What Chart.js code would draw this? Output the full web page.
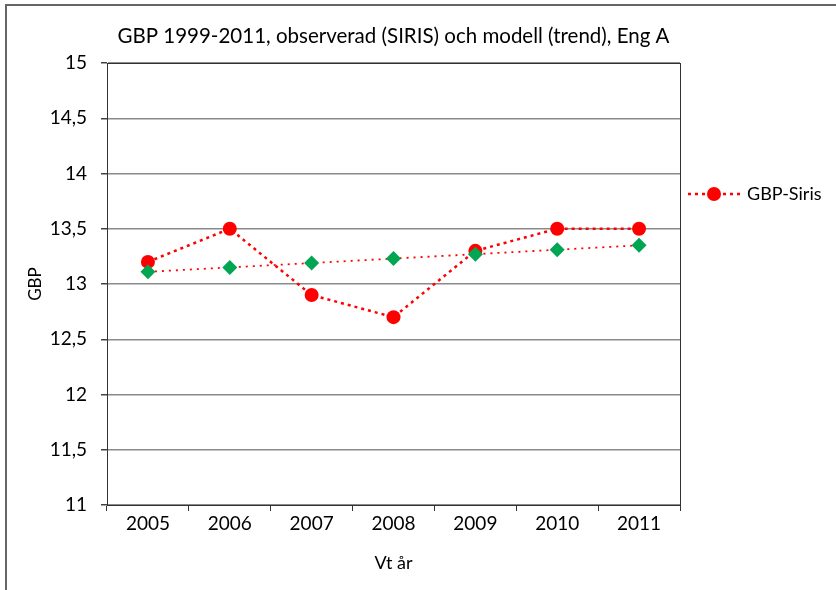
<!DOCTYPE html>
<html>
<head>
<meta charset="utf-8">
<script src="https://cdn.jsdelivr.net/npm/chart.js@4"></script>
<style>
    html, body { margin: 0; padding: 0; background: #fff; }
    #wrap { width: 836px; height: 590px; }
</style>
</head>
<body>
<div id="wrap"><canvas id="gbpChart" width="836" height="590"></canvas></div>
<script>
const years = ["2005", "2006", "2007", "2008", "2009", "2010", "2011"];
const gbpSiris = [13.2, 13.5, 12.9, 12.7, 13.3, 13.5, 13.5];
const gbpTrend = [13.11, 13.15, 13.19, 13.23, 13.27, 13.31, 13.35];
const yMin = 11;
const yMax = 15;
const yStep = 0.5;

const FONT = "Lato, 'Open Sans', sans-serif";

// frame, plot border and the single-entry legend
const framePlugin = {
    id: "frame",
    afterDraw(chart) {
        const ctx = chart.ctx;
        const a = chart.chartArea;
        ctx.save();

        ctx.strokeStyle = "#333";
        ctx.lineWidth = 1;
        ctx.strokeRect(Math.round(a.left) + 0.5, Math.round(a.top) + 0.5,
            Math.round(a.right - a.left), Math.round(a.bottom - a.top));

        ctx.strokeStyle = "#666";
        ctx.lineWidth = 2;
        ctx.strokeRect(6, 5, 900, 700);

        const ly = 194;
        ctx.strokeStyle = "#ff0000";
        ctx.lineWidth = 2.5;
        ctx.setLineDash([3, 4]);
        ctx.beginPath();
        ctx.moveTo(688, ly);
        ctx.lineTo(740, ly);
        ctx.stroke();
        ctx.setLineDash([]);
        ctx.fillStyle = "#ff0000";
        ctx.beginPath();
        ctx.arc(714, ly, 7, 0, Math.PI * 2);
        ctx.fill();

        ctx.fillStyle = "#000";
        ctx.font = "18px " + FONT;
        ctx.textBaseline = "middle";
        ctx.textAlign = "left";
        ctx.fillText("GBP-Siris", 747, ly);
        ctx.restore();
    },
};

new Chart(document.getElementById("gbpChart"), {
    type: "line",
    data: {
        labels: years,
        datasets: [
            {
                label: "GBP-Siris",
                data: gbpSiris,
                order: 1,
                borderColor: "#ff0000",
                borderWidth: 2.5,
                borderDash: [3, 4],
                pointStyle: "circle",
                pointRadius: 7,
                pointBackgroundColor: "#ff0000",
                pointBorderColor: "#ff0000",
                pointBorderWidth: 0,
                tension: 0,
            },
            {
                label: "GBP-modell",
                data: gbpTrend,
                order: 0,
                borderColor: "#ff0000",
                borderWidth: 1.8,
                borderDash: [2, 5],
                pointStyle: "rectRot",
                pointRadius: 7.5,
                pointBackgroundColor: "#00a651",
                pointBorderColor: "#00a651",
                pointBorderWidth: 0,
                tension: 0,
            },
        ],
    },
    options: {
        responsive: false,
        animation: false,
        layout: { padding: { left: 0, right: 156, top: 0, bottom: 0 } },
        plugins: {
            legend: { display: false },
            tooltip: { enabled: false },
            title: {
                display: true,
                fullSize: false,
                text: "GBP 1999-2011, observerad (SIRIS) och modell (trend), Eng A",
                color: "#000",
                font: { family: FONT, size: 20.5, weight: "normal" },
                padding: { top: 24, bottom: 14.4 },
            },
        },
        scales: {
            x: {
                offset: true,
                afterFit(scale) { scale.height = 85; },
                border: { color: "#333", width: 1 },
                grid: { drawOnChartArea: false, tickLength: 6, color: "#333", offset: true },
                ticks: { color: "#000", padding: 1, font: { family: FONT, size: 19 } },
                title: {
                    display: true,
                    text: "Vt år",
                    color: "#000",
                    font: { family: FONT, size: 18 },
                    padding: { top: 0, bottom: 16 },
                },
            },
            y: {
                min: yMin,
                max: yMax,
                afterFit(scale) { scale.width = 107; },
                border: { color: "#333", width: 1 },
                grid: { color: "#8a8a8a", lineWidth: 1.5, tickLength: 6, tickColor: "#444" },
                ticks: {
                    stepSize: yStep,
                    color: "#000",
                    padding: 14,
                    font: { family: FONT, size: 19 },
                    callback: (v) => String(v).replace(".", ","),
                },
                title: {
                    display: true,
                    text: "GBP",
                    color: "#000",
                    font: { family: FONT, size: 17 },
                    padding: { top: 25, bottom: 0 },
                },
            },
        },
    },
    plugins: [framePlugin],
});
</script>
</body>
</html>
